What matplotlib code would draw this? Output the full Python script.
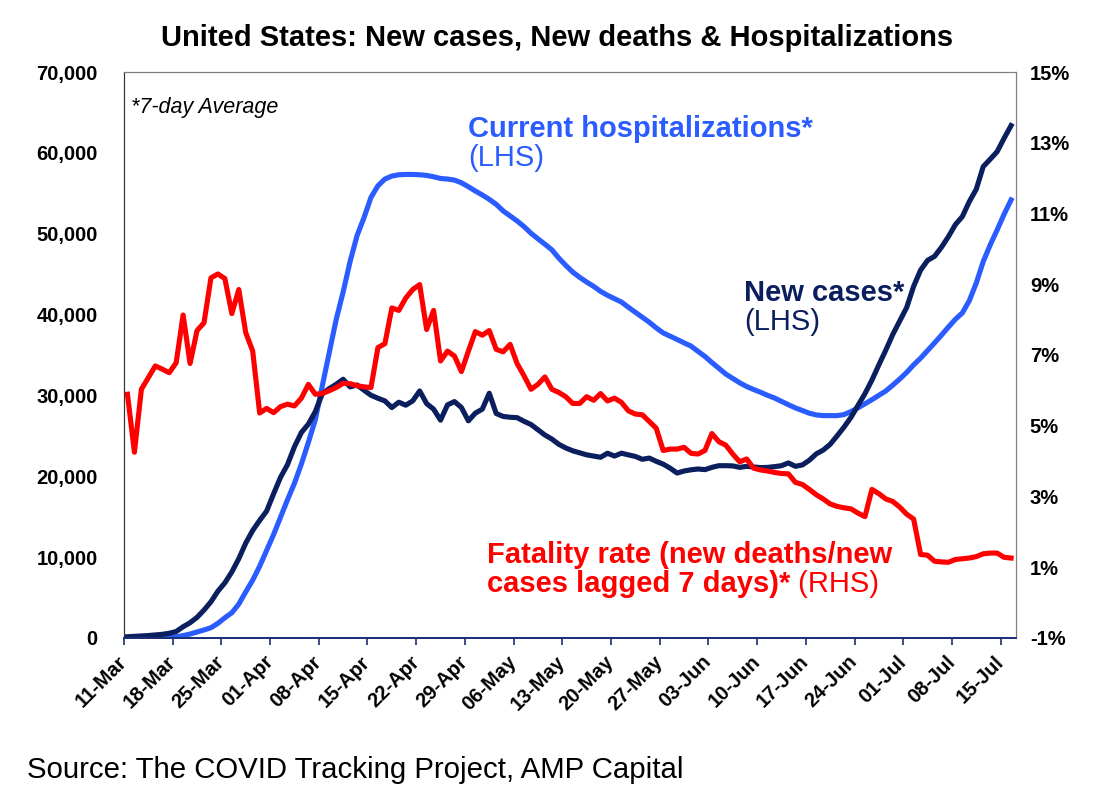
import matplotlib
matplotlib.use('Agg')
import matplotlib.pyplot as plt
import numpy as np

plt.rcParams['font.family'] = ['Liberation Sans', 'DejaVu Sans']

# day 0 = 11-Mar, last = 16-Jul (7-day averages)
tick_labels = ['11-Mar', '18-Mar', '25-Mar', '01-Apr', '08-Apr', '15-Apr', '22-Apr',
               '29-Apr', '06-May', '13-May', '20-May', '27-May', '03-Jun', '10-Jun',
               '17-Jun', '24-Jun', '01-Jul', '08-Jul', '15-Jul']

new_cases = [150, 200, 250, 300, 380, 450, 580, 800, 1390, 1890,
             2550, 3450, 4480, 5790, 6820, 8170, 9810, 11740, 13300, 14540,
             15690, 17830, 19870, 21440, 23650, 25420, 26450, 28000, 30200, 30840,
             31380, 32000, 31050, 31290, 30640, 30020, 29650, 29320, 28500, 29160,
             28790, 29320, 30550, 28990, 28300, 26940, 28830, 29240, 28500, 26860,
             27810, 28300, 30270, 27760, 27400, 27300, 27250, 26800, 26400, 25750,
             25100, 24600, 23950, 23500, 23150, 22900, 22650, 22500, 22350, 22850,
             22500, 22850, 22650, 22450, 22100, 22250, 21850, 21500, 21000, 20400,
             20650, 20800, 20900, 20820, 21100, 21310, 21310, 21280, 21100, 21230,
             21150, 21070, 21100, 21190, 21310, 21650, 21230, 21400, 21980, 22770,
             23240, 23950, 25000, 26090, 27300, 28760, 30220, 31890, 33780, 35610,
             37540, 39210, 40880, 43500, 45500, 46700, 47200, 48330, 49640, 51130,
             52120, 53970, 55500, 58300, 59210, 60150, 61810, 63370]

hospitalized = [50, 60, 70, 80, 90, 100, 120, 150, 290, 490,
                740, 990, 1270, 1810, 2500, 3120, 4190, 5700, 7150, 8870,
                10840, 12780, 14950, 17090, 19130, 21520, 24180, 27000, 31170, 35270,
                39390, 42790, 46570, 49770, 51990, 54490, 55930, 56760, 57130, 57290,
                57330, 57330, 57290, 57210, 57040, 56830, 56760, 56630, 56300, 55810,
                55280, 54790, 54250, 53630, 52820, 52200, 51580, 50880, 50060, 49370,
                48700, 48010, 46980, 46080, 45250, 44600, 44020, 43490, 42870, 42380,
                41970, 41550, 40900, 40290, 39670, 39050, 38350, 37730, 37330, 36920,
                36500, 36100, 35450, 34820, 34070, 33360, 32640, 32100, 31560, 31100,
                30730, 30390, 30010, 29680, 29260, 28850, 28460, 28130, 27800, 27590,
                27500, 27500, 27500, 27630, 28010, 28460, 28970, 29470, 30010, 30550,
                31270, 32030, 32850, 33780, 34610, 35540, 36490, 37460, 38460, 39420,
                40200, 41720, 43900, 46550, 48610, 50470, 52410, 54180]

fatality = [5.89, 4.25, 6.03, 6.36, 6.69, 6.60, 6.50, 6.78, 8.13, 6.76,
            7.69, 7.91, 9.18, 9.29, 9.16, 8.17, 8.85, 7.63, 7.11, 5.36,
            5.49, 5.37, 5.54, 5.61, 5.56, 5.78, 6.17, 5.89, 5.91, 5.99,
            6.08, 6.20, 6.19, 6.13, 6.10, 6.08, 7.21, 7.32, 8.33, 8.26,
            8.61, 8.85, 8.99, 7.72, 8.26, 6.83, 7.11, 6.97, 6.53, 7.11,
            7.66, 7.56, 7.69, 7.16, 7.09, 7.30, 6.76, 6.41, 6.03, 6.17,
            6.38, 6.03, 5.94, 5.82, 5.63, 5.63, 5.82, 5.72, 5.91, 5.70,
            5.78, 5.66, 5.42, 5.33, 5.31, 5.12, 4.93, 4.30, 4.34, 4.34,
            4.39, 4.22, 4.20, 4.30, 4.78, 4.55, 4.45, 4.20, 3.98, 4.06,
            3.80, 3.75, 3.72, 3.68, 3.65, 3.64, 3.40, 3.34, 3.20, 3.05,
            2.93, 2.79, 2.72, 2.68, 2.65, 2.53, 2.43, 3.20, 3.08, 2.93,
            2.86, 2.70, 2.50, 2.36, 1.36, 1.34, 1.17, 1.15, 1.14, 1.22,
            1.24, 1.26, 1.30, 1.38, 1.40, 1.40, 1.28, 1.26]

days = np.arange(len(new_cases))

navy = '#0b1f5e'
blue = '#2b5cff'
red = '#ff0000'
axis_blue = '#1c2f78'

fig = plt.figure(figsize=(11.08, 8.09), dpi=100)
ax = fig.add_axes([0.1119, 0.2114, 0.805, 0.6996])
ax2 = ax.twinx()

ax.plot(days, hospitalized, color=blue, lw=3.7, solid_joinstyle='round', zorder=2)
ax.plot(days, new_cases, color=navy, lw=3.7, solid_joinstyle='round', zorder=3)
ax2.plot(days, fatality, color=red, lw=3.7, solid_joinstyle='round')

ax.set_xlim(-0.5, 127.7)
ax.set_ylim(0, 70000)
ax2.set_ylim(-1, 15)

ax.set_yticks(np.arange(0, 70001, 10000))
ax.set_yticklabels(['{:,}'.format(v) for v in range(0, 70001, 10000)],
                   fontsize=14.5, fontweight='bold')
ax2.set_yticks(np.arange(-1, 16, 2))
ax2.set_yticklabels(['{}%'.format(v) for v in range(-1, 16, 2)],
                    fontsize=14.5, fontweight='bold')
ax.tick_params(axis='y', length=0, pad=19)
ax2.tick_params(axis='y', length=0, pad=10)

ax.set_xticks(np.arange(len(tick_labels)) * 7 - 0.5)
ax.set_xticklabels(tick_labels, rotation=45, ha='right', va='center',
                   rotation_mode='anchor', fontsize=14.5, fontweight='bold')
ax.tick_params(axis='x', length=5, width=1.2, color=axis_blue, pad=10, direction='out')

for a in (ax, ax2):
    a.spines['top'].set_color('#7f7f7f')
    a.spines['right'].set_color('#7f7f7f')
    a.spines['left'].set_color('#333333')
    a.spines['bottom'].set_color(axis_blue)
    a.spines['bottom'].set_linewidth(1.3)

fig.text(0.503, 0.953, 'United States: New cases, New deaths & Hospitalizations',
         ha='center', va='center', fontsize=21, fontweight='bold')
fig.text(0.0244, 0.048, 'Source: The COVID Tracking Project, AMP Capital',
         ha='left', va='center', fontsize=21.2)

ax.text(0.008, 0.938, '*7-day Average', transform=ax.transAxes, ha='left', va='center',
        fontsize=15.5, style='italic')

ax.text(0.386, 0.899, 'Current hospitalizations*', transform=ax.transAxes,
        ha='left', va='center', fontsize=21, fontweight='bold', color=blue)
ax.text(0.386, 0.848, '(LHS)', transform=ax.transAxes,
        ha='left', va='center', fontsize=21, color=blue)

ax.text(0.695, 0.610, 'New cases*', transform=ax.transAxes,
        ha='left', va='center', fontsize=21, fontweight='bold', color=navy)
ax.text(0.695, 0.558, '(LHS)', transform=ax.transAxes,
        ha='left', va='center', fontsize=21, color=navy)

ax.text(0.407, 0.147, 'Fatality rate (new deaths/new', transform=ax.transAxes,
        ha='left', va='center', fontsize=21, fontweight='bold', color=red)
t = ax.text(0.407, 0.095, 'cases lagged 7 days)*', transform=ax.transAxes,
            ha='left', va='center', fontsize=21, fontweight='bold', color=red)
ax.annotate(' (RHS)', xy=(1, 0.5), xycoords=t, ha='left', va='center',
            fontsize=21, color=red)

fig.savefig('out.png', dpi=100)
